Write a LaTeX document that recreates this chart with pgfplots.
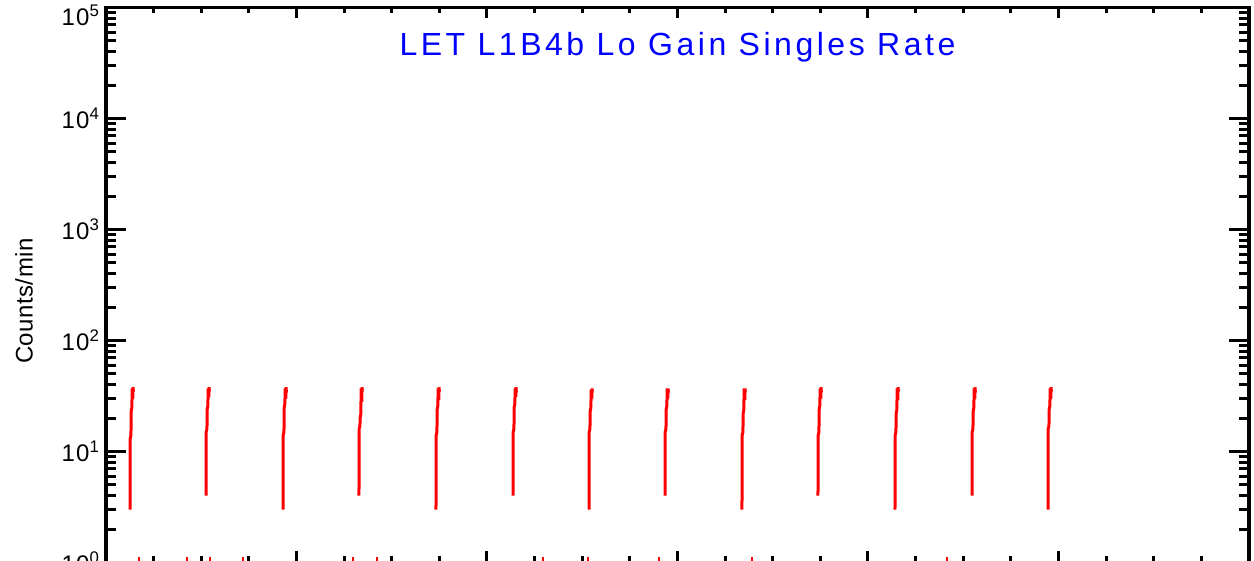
\documentclass[border=0pt]{standalone}
\usepackage{pgfplots}
\pgfplotsset{compat=1.18}
\usepackage{fontspec}
\setmainfont{Liberation Sans}
\begin{document}
\begin{tikzpicture}
\pgfplotsset{
  base/.style={scale only axis, width=1143pt, height=555pt, xmin=0, xmax=24,
    at={(0pt,0pt)}, anchor=south west,
    axis line style={line width=3.5pt, black},
    every tick/.style={black, line width=3pt}},
}
\useasboundingbox (-106pt,1.5pt) rectangle (1148pt,562.5pt);
\begin{axis}[base, ymode=log, ymin=1, ymax=1e5,
  xtick=\empty,
  major tick length=20pt, minor tick length=10pt,
  yticklabel={\pgfmathtruncatemacro\e{round(\tick/2.302585)}\ifnum\e=5 \raisebox{-8pt}[\height][0pt]{10\textsuperscript{5}}\else 10\textsuperscript{\e}\fi},
  yticklabel style={font=\fontsize{24}{24}\selectfont\addfontfeature{LetterSpace=5}, xshift=-3pt},
  ylabel={Counts/min},
  every axis y label/.style={at={(rel axis cs:0,0.471)}, xshift=-82pt, rotate=90, anchor=center, font=\fontsize{24}{28}\selectfont\addfontfeature{LetterSpace=2}},
  unbounded coords=jump]
\addplot[red, line width=3pt] table {
x y
0.504 3
0.508 13
0.524 14
0.529 23
0.544 25
0.549 37
0.564 30
0.569 38
0.574 35
nan nan
2.100 4
2.104 15
2.120 16
2.125 24
2.140 26
2.145 37
2.160 31
2.165 38
2.170 35
nan nan
3.717 3
3.721 14
3.737 15
3.742 25
3.757 27
3.762 37
3.777 30
3.782 38
3.787 34
nan nan
5.312 4
5.316 16
5.332 17
5.337 20
5.352 22
5.357 37
5.372 28
5.377 38
5.382 36
nan nan
6.929 3
6.933 14
6.949 15
6.954 24
6.969 26
6.974 37
6.989 29
6.994 38
6.999 35
nan nan
8.546 4
8.550 15
8.566 16
8.571 25
8.586 27
8.591 37
8.606 31
8.611 38
8.616 34
nan nan
10.142 3
10.146 15
10.162 16
10.167 23
10.182 25
10.187 36
10.202 30
10.207 37
10.212 35
nan nan
11.738 4
11.742 15
11.758 16
11.763 24
11.778 26
11.783 37
11.798 30
11.803 37
11.808 34
nan nan
13.354 3
13.358 14
13.374 15
13.379 22
13.394 24
13.399 37
13.414 29
13.419 37
13.424 34
nan nan
14.950 4
14.954 14
14.970 15
14.975 24
14.990 26
14.995 37
15.010 30
15.015 38
15.020 34
nan nan
16.567 3
16.571 14
16.587 15
16.592 22
16.607 24
16.612 37
16.627 29
16.632 38
16.637 35
nan nan
18.184 4
18.188 15
18.204 16
18.209 23
18.224 25
18.229 37
18.244 30
18.249 38
18.254 34
nan nan
19.780 3
19.784 16
19.800 17
19.805 24
19.820 26
19.825 37
19.840 30
19.845 38
19.850 35
};
\addplot[red, line width=1.2pt] table {
x y
0.693 0.9
0.693 1.12
nan nan
1.701 0.9
1.701 1.12
nan nan
2.184 0.9
2.184 1.12
nan nan
2.877 0.9
2.877 1.12
nan nan
5.186 0.9
5.186 1.12
nan nan
5.690 0.9
5.690 1.12
nan nan
9.176 0.9
9.176 1.12
nan nan
10.121 0.9
10.121 1.12
nan nan
11.612 0.9
11.612 1.12
nan nan
13.564 0.9
13.564 1.12
nan nan
17.659 0.9
17.659 1.12
};
\node[blue, anchor=base, font=\fontsize{32}{34}\selectfont\addfontfeature{LetterSpace=11}] at (rel axis cs:0.5,1) [yshift=-48.5pt] {LET L1B4b Lo Gain Singles Rate};
\end{axis}
\begin{axis}[base, ymin=0, ymax=1, ytick=\empty,
  xtick={0,4,...,24}, minor x tick num=3, xticklabels={},
  major tick length=11pt, minor tick length=6pt]
\end{axis}
\end{tikzpicture}
\end{document}
